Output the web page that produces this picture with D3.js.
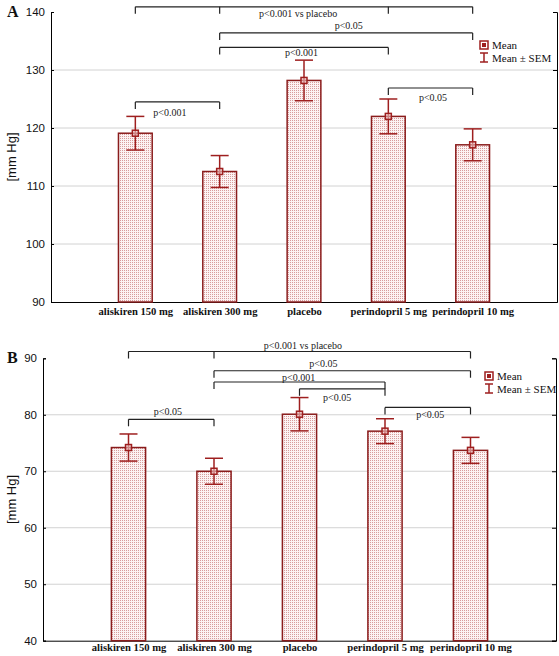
<!DOCTYPE html>
<html><head><meta charset="utf-8">
<script src="https://cdn.jsdelivr.net/npm/d3@7"></script>
<style>body{margin:0;background:#fff}svg{display:block}</style>
</head><body><svg id="c" width="559" height="656"></svg>
<script>
// ---- data ----
const categories = ["aliskiren 150 mg", "aliskiren 300 mg", "placebo", "perindopril 5 mg", "perindopril 10 mg"];
const meansA = [119.1, 112.5, 128.2, 122.0, 117.1];
const semA   = [2.9, 2.75, 3.5, 3.0, 2.75];
const meansB = [74.2, 70.0, 80.1, 77.1, 73.7];
const semB   = [2.4, 2.3, 2.95, 2.2, 2.3];
const yTicksA = [90, 100, 110, 120, 130, 140];
const yTicksB = [40, 50, 60, 70, 80, 90];
const legendLabels = ["Mean", "Mean \u00b1 SEM"];
// significance brackets: category indices, level (mmHg), label, label anchor (category units, mmHg)
const bracketsA = [
  {from: 0, to: 4, mid: [1, 3], level: 140.9, label: "p<0.001 vs placebo", lx: 1.93, ly: 139.8},
  {from: 1, to: 4, mid: [], level: 136.4, label: "p<0.05", lx: 2.53, ly: 137.6},
  {from: 1, to: 3, mid: [], level: 133.9, label: "p<0.001", lx: 1.97, ly: 133.0},
  {from: 0, to: 1, mid: [], level: 124.5, label: "p<0.001", lx: 0.41, ly: 122.7},
  {from: 3, to: 4, mid: [], level: 126.9, label: "p<0.05", lx: 3.53, ly: 125.3}
];
const bracketsB = [
  {from: 0, to: 4, mid: [1], level: 91.2, label: "p<0.001 vs placebo", lx: 2.04, ly: 92.35},
  {from: 1, to: 4, mid: [], level: 87.8, label: "p<0.05", lx: 2.28, ly: 89.1},
  {from: 1, to: 3, mid: [], level: 85.8, label: "p<0.001", lx: 1.99, ly: 86.6},
  {from: 2, to: 3, mid: [], level: 84.6, label: "p<0.05", lx: 2.44, ly: 83.0},
  {from: 0, to: 1, mid: [], level: 79.2, label: "p<0.05", lx: 0.46, ly: 80.5},
  {from: 3, to: 4, mid: [], level: 81.3, label: "p<0.05", lx: 3.53, ly: 80.0}
];

// ---- drawing ----
const svg = d3.select("#c");
const RED = "#9e1f1f", EDGE = "#8a1c1c";
const serif = "'Liberation Serif','Times New Roman',serif";
const sans = "'Liberation Sans',Arial,sans-serif";

const defs = svg.append("defs");
const pat = defs.append("pattern").attr("id", "dots").attr("patternUnits", "userSpaceOnUse")
  .attr("width", 2).attr("height", 2);
pat.append("rect").attr("width", 2).attr("height", 2).attr("fill", "#fcf3f3");
pat.append("rect").attr("width", 1).attr("height", 1).attr("fill", "#d89c9c");

function panel(cfg) {
  const g = svg.append("g");
  const x = d3.scalePoint().domain(categories).range([cfg.x0, cfg.x1]).padding(1);
  const step = x.step();
  const xc = c => x(categories[0]) + c * step;
  const y = d3.scaleLinear().domain([cfg.ticks[0], cfg.ticks[cfg.ticks.length - 1]]).range([cfg.yb, cfg.yt]);
  const bw = step * 0.4, cap = 18;

  // gridlines
  g.append("g").selectAll("line").data(cfg.ticks.slice(1, -1)).join("line")
    .attr("x1", cfg.x0).attr("x2", cfg.x1).attr("y1", d => y(d)).attr("y2", d => y(d))
    .attr("stroke", "#d2d2d2").attr("stroke-width", 1);

  // axes
  const ya = g.append("g").attr("transform", `translate(${cfg.x0},0)`)
    .call(d3.axisLeft(y).tickValues(cfg.ticks).tickSize(-3).tickPadding(6).tickFormat(d3.format("d")));
  ya.select(".domain").attr("stroke", "#000");
  ya.selectAll("text").attr("font-family", sans).attr("font-size", 11.5).attr("fill", "#111");
  const yr = g.append("g").attr("transform", `translate(${cfg.x1},0)`)
    .call(d3.axisRight(y).tickValues(cfg.ticks).tickSize(-4).tickFormat(""));
  yr.select(".domain").attr("stroke", "#000");
  const xa = g.append("g").attr("transform", `translate(0,${cfg.yb})`)
    .call(d3.axisBottom(x).tickSize(-3).tickPadding(cfg.xPad).tickSizeOuter(0));
  xa.select(".domain").attr("stroke", "#000");
  xa.selectAll("text").attr("font-family", serif).attr("font-weight", "bold").attr("font-size", 10.6).attr("fill", "#111");
  [ya, yr, xa].forEach(a => a.selectAll(".tick line").attr("stroke", "#000"));

  // bars
  const data = categories.map((c, i) => ({c, m: cfg.means[i], s: cfg.sem[i]}));
  g.append("g").selectAll("rect").data(data).join("rect")
    .attr("x", d => x(d.c) - bw / 2).attr("width", bw)
    .attr("y", d => y(d.m)).attr("height", d => y(cfg.ticks[0]) - y(d.m))
    .attr("fill", "url(#dots)").attr("stroke", EDGE).attr("stroke-width", 1.5);

  // error bars
  const eb = g.append("g").attr("stroke", RED).attr("stroke-width", 1.5).attr("fill", "none");
  eb.selectAll(".v").data(data).join("line").attr("class", "v")
    .attr("x1", d => x(d.c)).attr("x2", d => x(d.c)).attr("y1", d => y(d.m + d.s)).attr("y2", d => y(d.m - d.s));
  eb.selectAll(".t").data(data).join("line").attr("class", "t")
    .attr("x1", d => x(d.c) - cap / 2).attr("x2", d => x(d.c) + cap / 2).attr("y1", d => y(d.m + d.s)).attr("y2", d => y(d.m + d.s));
  eb.selectAll(".b").data(data).join("line").attr("class", "b")
    .attr("x1", d => x(d.c) - cap / 2).attr("x2", d => x(d.c) + cap / 2).attr("y1", d => y(d.m - d.s)).attr("y2", d => y(d.m - d.s));
  eb.selectAll(".m").data(data).join("rect").attr("class", "m")
    .attr("x", d => x(d.c) - 3).attr("y", d => y(d.m) - 3).attr("width", 6).attr("height", 6)
    .attr("fill", "rgba(240,200,200,0.6)");

  // brackets
  const br = g.append("g");
  cfg.brackets.forEach(b => {
    const yy = y(b.level), tl = 7;
    const xs = [b.from, ...b.mid, b.to].map(i => x(categories[i]));
    br.append("line").attr("x1", xs[0]).attr("x2", xs[xs.length - 1]).attr("y1", yy).attr("y2", yy)
      .attr("stroke", "#222").attr("stroke-width", 1.2);
    xs.forEach(xx => br.append("line").attr("x1", xx).attr("x2", xx).attr("y1", yy).attr("y2", yy + tl)
      .attr("stroke", "#222").attr("stroke-width", 1.2));
    br.append("text").attr("x", xc(b.lx)).attr("y", y(b.ly)).attr("text-anchor", "middle")
      .attr("dominant-baseline", "central").attr("font-family", serif).attr("font-size", 10)
      .attr("fill", "#222").text(b.label);
  });

  // legend
  const lg = g.append("g").attr("transform", `translate(${cfg.lx},${cfg.ly})`);
  lg.append("rect").attr("x", -4).attr("y", -4).attr("width", 8).attr("height", 8)
    .attr("fill", "none").attr("stroke", RED).attr("stroke-width", 1.5);
  lg.append("rect").attr("x", -2).attr("y", -2).attr("width", 4).attr("height", 4).attr("fill", RED);
  lg.append("text").attr("x", 8).attr("y", 0).attr("dominant-baseline", "central")
    .attr("font-family", serif).attr("font-size", 11).attr("fill", "#111").text(legendLabels[0]);
  const e = lg.append("g").attr("stroke", RED).attr("stroke-width", 1.5);
  e.append("line").attr("x1", 0).attr("x2", 0).attr("y1", 8).attr("y2", 17);
  e.append("line").attr("x1", -4).attr("x2", 4).attr("y1", 8).attr("y2", 8);
  e.append("line").attr("x1", -4).attr("x2", 4).attr("y1", 17).attr("y2", 17);
  lg.append("text").attr("x", 8).attr("y", 13).attr("dominant-baseline", "central")
    .attr("font-family", serif).attr("font-size", 11).attr("fill", "#111").text(legendLabels[1]);

  // y label
  g.append("text").attr("transform", `translate(${cfg.ylabX},${(cfg.yt + cfg.yb) / 2}) rotate(-90)`)
    .attr("text-anchor", "middle").attr("dominant-baseline", "central")
    .attr("font-family", sans).attr("font-size", 13).attr("fill", "#111").text("[mm Hg]");

  // panel letter
  g.append("text").attr("x", cfg.letterX).attr("y", cfg.yt + 5).attr("font-family", serif)
    .attr("font-weight", "bold").attr("font-size", 16).attr("fill", "#111").text(cfg.letter);
}

panel({letter: "A", letterX: 7, x0: 51, x1: 557, yt: 12, yb: 302, ticks: yTicksA, xPad: 5,
  means: meansA, sem: semA, brackets: bracketsA, lx: 484, ly: 45, ylabX: 11});
panel({letter: "B", letterX: 7, x0: 43, x1: 556, yt: 358.3, yb: 640.7, ticks: yTicksB, xPad: 3,
  means: meansB, sem: semB, brackets: bracketsB, lx: 489, ly: 376, ylabX: 11});
</script></body></html>
